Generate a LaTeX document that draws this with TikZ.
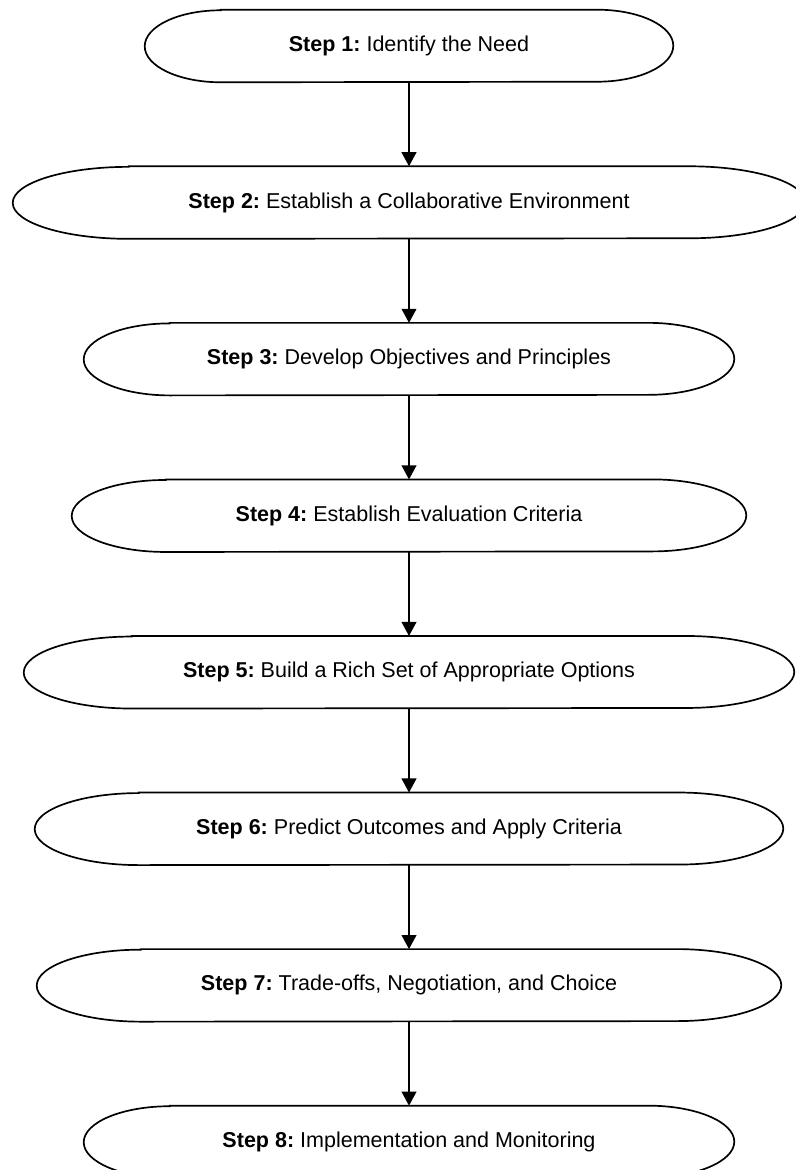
\documentclass[tikz,border=0pt]{standalone}
\usepackage{fontspec}
\setmainfont{Liberation Sans}
\usetikzlibrary{positioning,arrows.meta}

\begin{document}
\begin{tikzpicture}[
	stepbox/.style={minimum height=1.8cm, inner sep=0pt, font=\fontsize{15.3}{18}\selectfont\frenchspacing},
	outline/.style={line width=1.2pt},
	flow/.style={line width=1.2pt, -{Triangle[length=10pt,width=10.5pt]}}]
	\useasboundingbox (0,0) rectangle (19.9,-29.25);

	% the eight steps, one below the other
	\node[stepbox, minimum width=13.2cm] (s1) at (10.225,-1.15) {\textbf{Step 1:} Identify the Need};
	\node[stepbox, minimum width=19.8cm, below=2.1cm of s1] (s2) {\textbf{Step 2:} Establish a Collaborative Environment};
	\node[stepbox, minimum width=16.25cm, below=2.1cm of s2] (s3) {\textbf{Step 3:} Develop Objectives and Principles};
	\node[stepbox, minimum width=16.85cm, below=2.1cm of s3] (s4) {\textbf{Step 4:} Establish Evaluation Criteria};
	\node[stepbox, minimum width=19.25cm, below=2.1cm of s4] (s5) {\textbf{Step 5:} Build a Rich Set of Appropriate Options};
	\node[stepbox, minimum width=18.7cm, below=2.1cm of s5] (s6) {\textbf{Step 6:} Predict Outcomes and Apply Criteria};
	\node[stepbox, minimum width=18.6cm, below=2.1cm of s6] (s7) {\textbf{Step 7:} Trade-offs, Negotiation, and Choice};
	\node[stepbox, minimum width=16.25cm, below=2.1cm of s7] (s8) {\textbf{Step 8:} Implementation and Monitoring};

	% rounded ends
	\foreach \n/\rad in {s1/1.9, s2/2.9, s3/2.15, s4/2.35, s5/2.7, s6/2.6, s7/2.6, s8/2.15}
		\draw[outline] ([xshift=\rad cm]\n.north west) -- ([xshift=-\rad cm]\n.north east)
			arc[start angle=90, end angle=-90, x radius=\rad cm, y radius=0.9cm]
			-- ([xshift=\rad cm]\n.south west)
			arc[start angle=270, end angle=90, x radius=\rad cm, y radius=0.9cm] -- cycle;

	\foreach \a/\b in {s1/s2, s2/s3, s3/s4, s4/s5, s5/s6, s6/s7, s7/s8}
		\draw[flow] (\a) -- (\b);
\end{tikzpicture}
\end{document}
